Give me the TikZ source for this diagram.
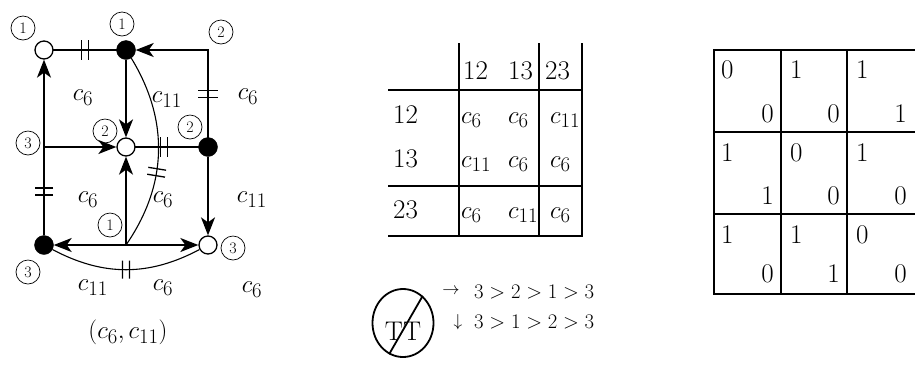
\documentclass[tikz,border=0pt]{standalone}
\usepackage{tikz}
\usetikzlibrary{arrows.meta,decorations.markings,positioning,shapes.geometric}

\begin{document}
\begin{tikzpicture}[
        x=1pt,y=-1pt,
        opendot/.style={draw,circle,fill=white,line width=1.3pt,minimum size=18pt,inner sep=0pt},
        fulldot/.style={draw,circle,fill=black,minimum size=19pt,inner sep=0pt},
        tag/.style={draw,circle,line width=0.7pt,minimum size=24pt,inner sep=0pt,font=\fontsize{16}{16}\selectfont},
        big/.style={font=\fontsize{29}{31}\selectfont},
        num/.style={font=\fontsize{27}{29}\selectfont,inner sep=0pt},
        wire/.style={line width=1.7pt,line cap=rect},
        bow/.style={line width=1.1pt},
        flow/.style={line width=1.7pt,-{Stealth[length=18pt,width=14pt,inset=5pt]}},
        dbl/.style={postaction={decorate,decoration={markings,mark=at position #1 with {\draw[line width=1.3pt,-] (-3.5pt,-9pt) -- (-3.5pt,9pt) (3.5pt,-9pt) -- (3.5pt,9pt);}}}},
        rule/.style={line width=1.5pt},
        cell/.style={draw,line width=1.8pt,minimum width=67pt,minimum height=82pt,inner sep=0pt,anchor=north west},
        digit/.style={font=\fontsize{27}{29}\selectfont,inner sep=0pt}
    ]
        \useasboundingbox (0,0) rectangle (915,368);

        \node[opendot] (topleft) at (44,50) {};
        \node[fulldot] (topmid) at (126,50) {};
        \coordinate (topright) at (208,50);
        \coordinate (midleft) at (44,147);
        \node[opendot] (hub) at (126,147) {};
        \node[fulldot] (midright) at (208,147) {};
        \node[fulldot] (botleft) at (44,245) {};
        \coordinate (botmid) at (126,245);
        \node[opendot] (botright) at (208,245) {};

        \draw[wire,dbl=0.5] (topleft) -- (topmid);
        \draw[flow] (topright) -- (topmid);
        \draw[wire,dbl=0.5] (topright) -- (midright);
        \draw[flow] (midright) -- (botright);
        \draw[flow] (topmid) -- (hub);
        \draw[flow] (midleft) -- (hub);
        \draw[wire,dbl=0.45] (hub) -- (midright);
        \draw[flow] (botmid) -- (hub);
        \draw[flow] (botmid) -- (botleft);
        \draw[flow] (botmid) -- (botright);
        \draw[flow,dbl=0.25] (botleft) -- (topleft);
        \draw[bow,dbl=0.6] (topmid) to[bend left=33] (botmid);
        \draw[bow,dbl=0.5] (botleft) to[bend right=28] (botright);

        \node[tag] (tagtl) at (23,28) {1};
        \node[tag] (tagtm) at (122,24) {1};
        \node[tag] (tagtr) at (221,32) {2};
        \node[tag] (taghub) at (105,131) {2};
        \node[tag] (tagmr) at (190,127) {2};
        \node[tag] (tagml) at (28,143) {3};
        \node[tag] (tagbm) at (110,225) {1};
        \node[tag] (tagbl) at (28,272) {3};
        \node[tag] (tagbr) at (233,248) {3};

        \node[big] (wa) at (83,98) {$c_6$};
        \node[big] (wb) at (167,100) {$c_{11}$};
        \node[big] (wc) at (248,97) {$c_6$};
        \node[big] (wd) at (88,200) {$c_6$};
        \node[big] (we) at (163,200) {$c_6$};
        \node[big] (wf) at (252,200) {$c_{11}$};
        \node[big] (wg) at (93,288) {$c_{11}$};
        \node[big] (wh) at (163,288) {$c_6$};
        \node[big] (wi) at (252,290) {$c_6$};
        \node[big] (pair) at (128,332) {$(c_6,c_{11})$};

        \draw[rule] (459,43) -- (459,237) (539,43) -- (539,237) (582,43) -- (582,237);
        \draw[rule] (388,90) -- (582,90) (388,186) -- (582,186) (388,236) -- (582,236);
        \node[num,anchor=base west] (h12) at (463,79) {12};
        \node[num,anchor=base west] (h13) at (508,79) {13};
        \node[num,anchor=base west] (h23) at (545,79) {23};
        \node[num,anchor=base west] (r12) at (393,123) {12};
        \node[num,anchor=base west] (r13) at (393,167) {13};
        \node[num,anchor=base west] (r23) at (393,218) {23};
        \node[big,inner sep=0pt,anchor=base west] (e11) at (461,123) {$c_6$};
        \node[big,inner sep=0pt,anchor=base west] (e12) at (508,123) {$c_6$};
        \node[big,inner sep=0pt,anchor=base west] (e13) at (550,123) {$c_{11}$};
        \node[big,inner sep=0pt,anchor=base west] (e21) at (461,167) {$c_{11}$};
        \node[big,inner sep=0pt,anchor=base west] (e22) at (508,167) {$c_6$};
        \node[big,inner sep=0pt,anchor=base west] (e23) at (550,167) {$c_6$};
        \node[big,inner sep=0pt,anchor=base west] (e31) at (461,218) {$c_6$};
        \node[big,inner sep=0pt,anchor=base west] (e32) at (508,218) {$c_{11}$};
        \node[big,inner sep=0pt,anchor=base west] (e33) at (550,218) {$c_6$};

        \node[draw,ellipse,line width=1.8pt,minimum width=61pt,minimum height=68pt,inner sep=0pt] (nott) at (403,323) {};
        \node[font=\fontsize{27}{29}\selectfont,inner sep=0pt] (tt) at (403,331) {TT};
        \draw[line width=1.8pt] (nott.246) -- (nott.54);
        \node[font=\fontsize{17}{17}\selectfont,inner sep=0pt] (toright) at (451,291) {$\rightarrow$};
        \node[font=\fontsize{20}{22}\selectfont,inner sep=0pt,anchor=west] (orda) at (474,292) {$3>2>1>3$};
        \node[font=\fontsize{17}{17}\selectfont,inner sep=0pt] (todown) at (458,322) {$\downarrow$};
        \node[font=\fontsize{20}{22}\selectfont,inner sep=0pt,anchor=west] (ordb) at (474,322) {$3>1>2>3$};

        \node[cell] (g11) at (713,49) {};
        \node[cell,minimum width=66pt] (g12) at (780,49) {};
        \node[cell,minimum width=69pt] (g13) at (846,49) {};
        \node[cell] (g21) at (713,131) {};
        \node[cell,minimum width=66pt] (g22) at (780,131) {};
        \node[cell,minimum width=69pt] (g23) at (846,131) {};
        \node[cell,minimum height=80pt] (g31) at (713,213) {};
        \node[cell,minimum width=66pt,minimum height=80pt] (g32) at (780,213) {};
        \node[cell,minimum width=69pt,minimum height=80pt] (g33) at (846,213) {};

        \node[digit,anchor=base west] (t11) at (721,78) {0};
        \node[digit,anchor=base east] (b11) at (774,122) {0};
        \node[digit,anchor=base west] (t12) at (790,78) {1};
        \node[digit,anchor=base east] (b12) at (840,122) {0};
        \node[digit,anchor=base west] (t13) at (856,78) {1};
        \node[digit,anchor=base east] (b13) at (907,122) {1};
        \node[digit,anchor=base west] (t21) at (721,161) {1};
        \node[digit,anchor=base east] (b21) at (774,204) {1};
        \node[digit,anchor=base west] (t22) at (790,161) {0};
        \node[digit,anchor=base east] (b22) at (840,204) {0};
        \node[digit,anchor=base west] (t23) at (856,161) {1};
        \node[digit,anchor=base east] (b23) at (907,204) {0};
        \node[digit,anchor=base west] (t31) at (721,243) {1};
        \node[digit,anchor=base east] (b31) at (774,282) {0};
        \node[digit,anchor=base west] (t32) at (790,243) {1};
        \node[digit,anchor=base east] (b32) at (840,282) {1};
        \node[digit,anchor=base west] (t33) at (856,243) {0};
        \node[digit,anchor=base east] (b33) at (907,282) {0};
    \end{tikzpicture}
\end{document}
